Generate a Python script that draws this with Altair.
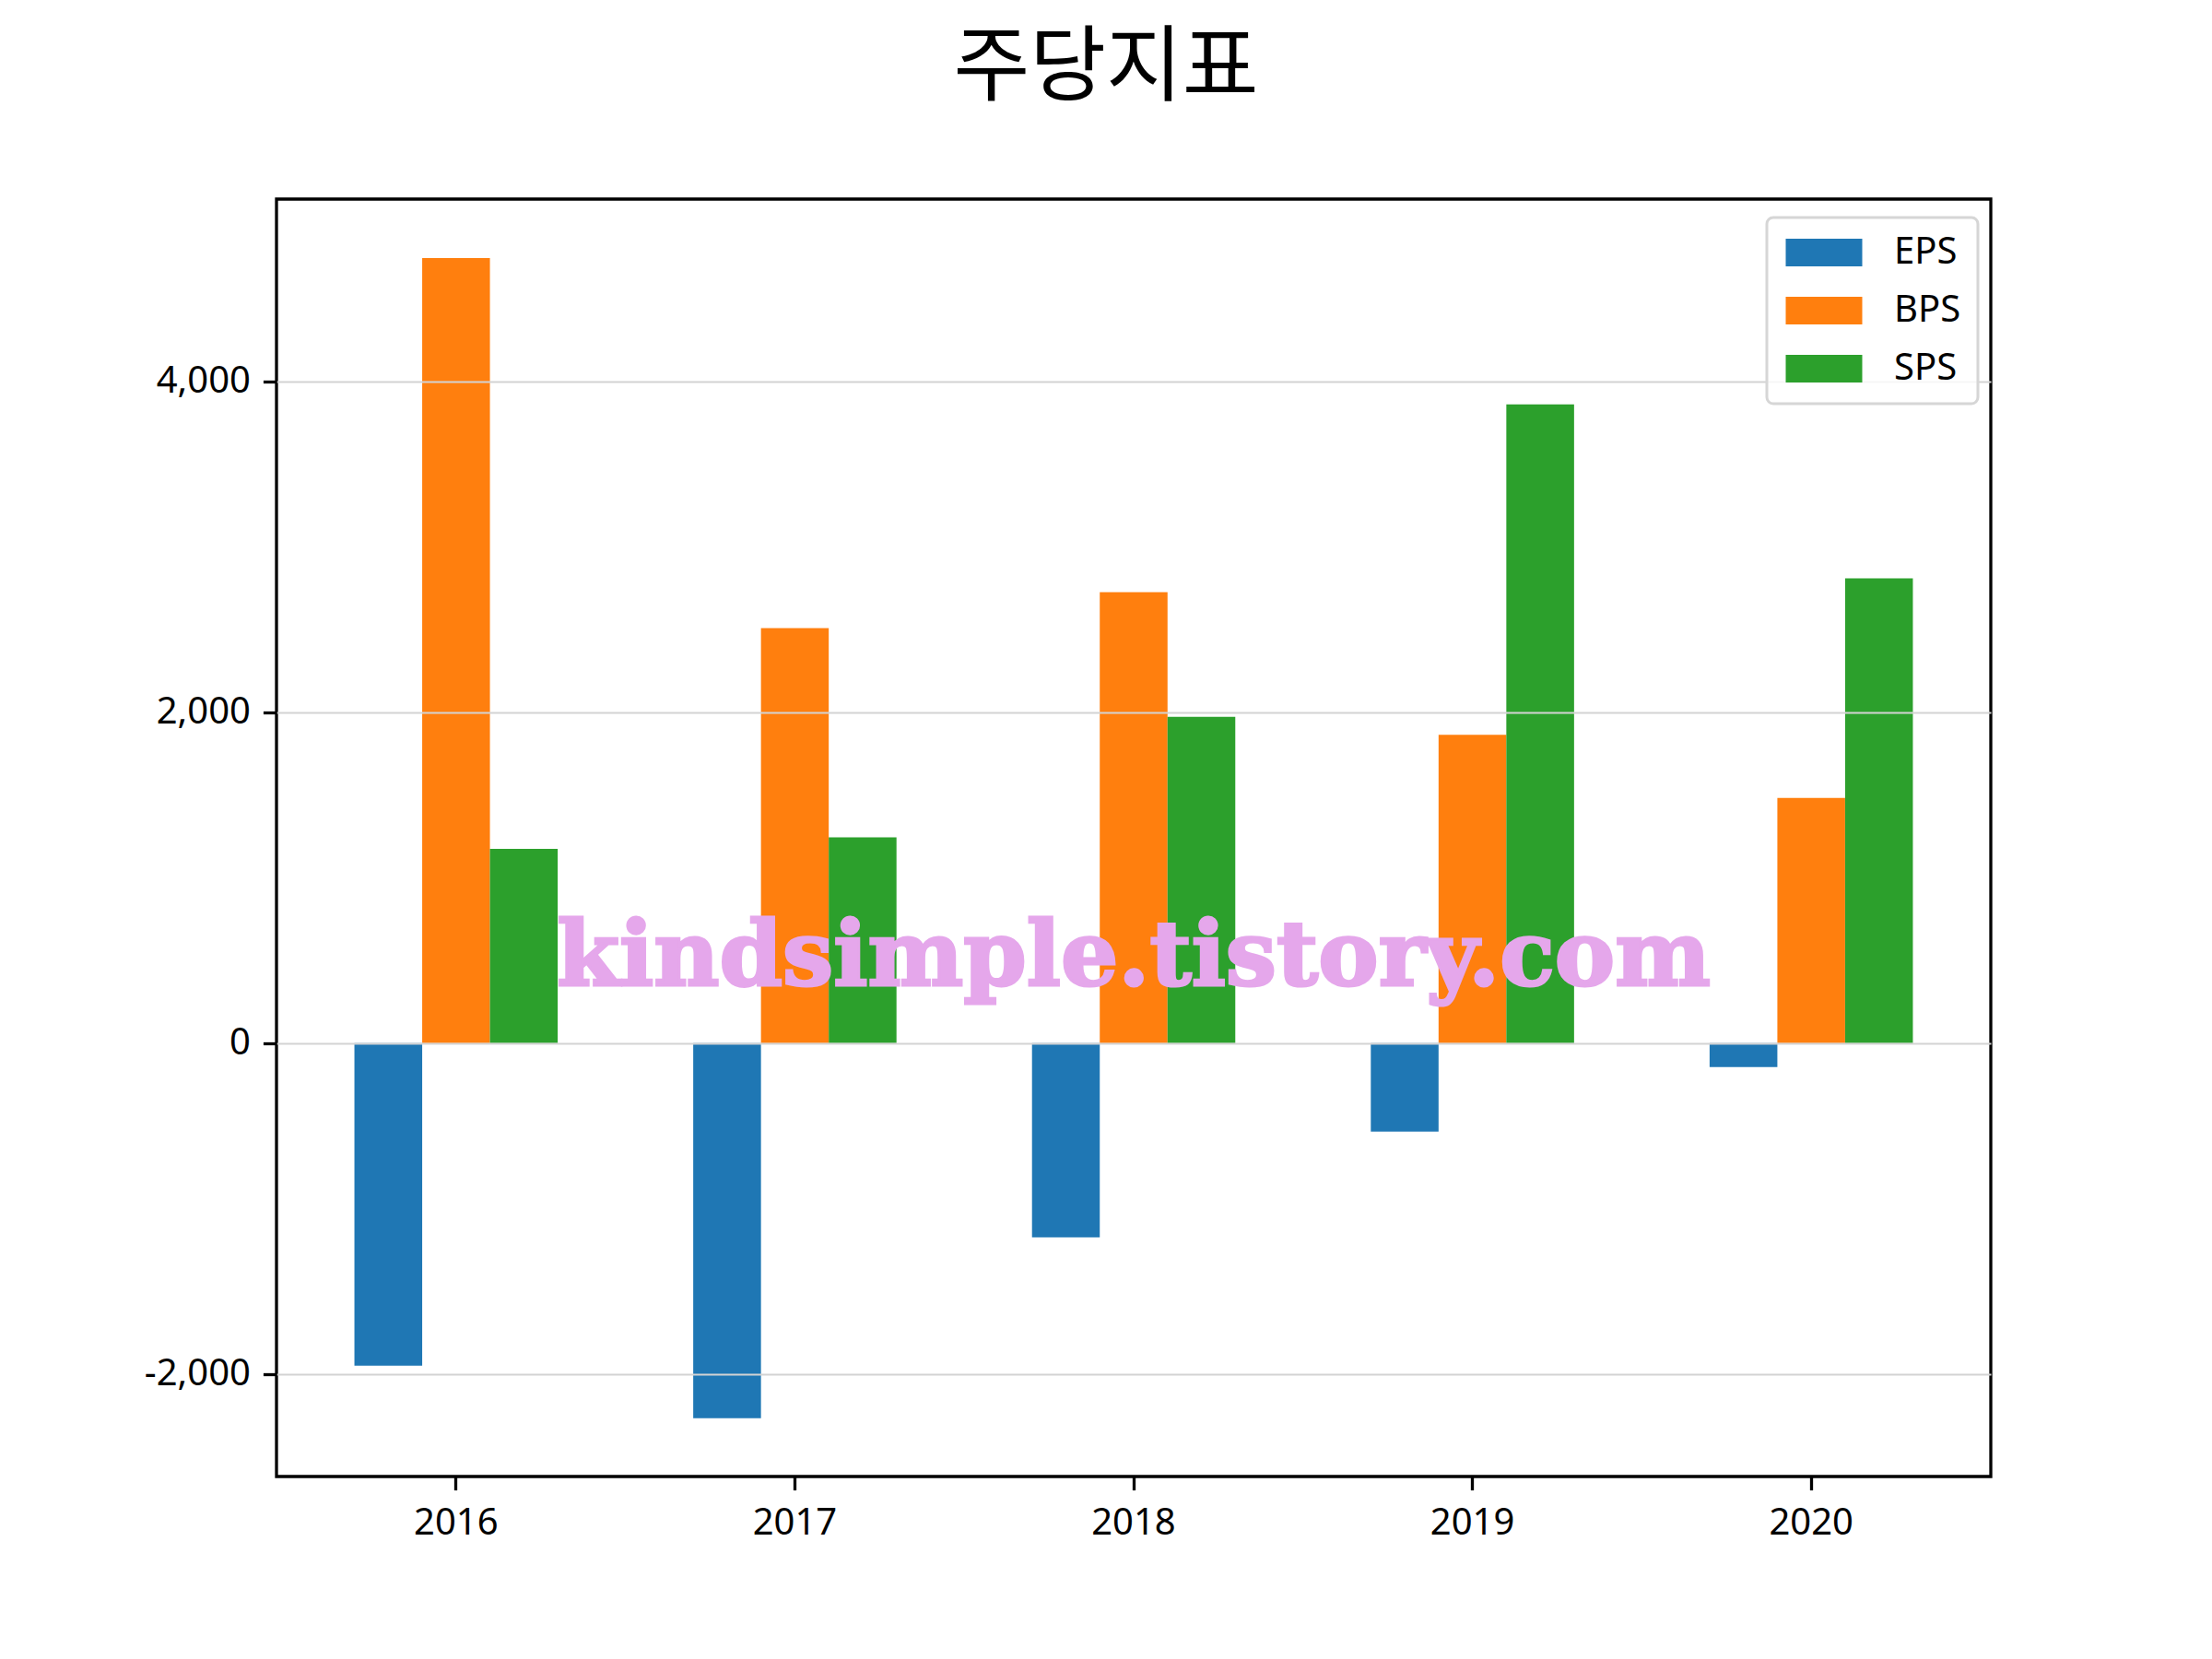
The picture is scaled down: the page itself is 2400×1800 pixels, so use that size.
import altair as alt
import pandas as pd

years = ["2016", "2017", "2018", "2019", "2020"]
series = ["EPS", "BPS", "SPS"]
eps = [-1950, -2267, -1175, -535, -145]
bps = [4745, 2508, 2725, 1863, 1482]
sps = [1173, 1243, 1971, 3860, 2808]
colors = ["#1f77b4", "#ff7f0e", "#2ca02c"]
watermark = "kindsimple.tistory.com"
y_ticks = [-2000, 0, 2000, 4000]

rows = []
for name, vals in zip(series, [eps, bps, sps]):
    for y, v in zip(years, vals):
        rows.append({"year": y, "series": name, "value": v})
df = pd.DataFrame(rows)

FS = 40
LABEL_FONT = "Noto Sans"

x_scale = alt.Scale(domain=years, paddingInner=0.4, paddingOuter=0.23)
y_scale = alt.Scale(domain=[-2620, 5101], nice=False, zero=False)

x_axis = alt.Axis(title=None, labelAngle=0, domain=False, grid=False,
                  tickColor="black", tickWidth=3.3, tickSize=14.6,
                  labelFontSize=FS, labelFont=LABEL_FONT, labelColor="black",
                  labelPadding=16, zindex=1)
y_axis = alt.Axis(title=None, values=y_ticks,
                  labelExpr="replace(format(datum.value, ','), '\u2212', '-')",
                  domain=False, grid=True, gridColor="#d3d3d3", gridWidth=2,
                  tickColor="black", tickWidth=3.3, tickSize=14.6,
                  labelFontSize=FS, labelFont=LABEL_FONT, labelColor="black",
                  labelPadding=14, zindex=1)

bars = alt.Chart(df).mark_bar().encode(
    x=alt.X("year:N", sort=years, scale=x_scale, axis=x_axis),
    xOffset=alt.XOffset("series:N", sort=series,
                        scale=alt.Scale(domain=series, paddingInner=0, paddingOuter=0)),
    y=alt.Y("value:Q", scale=y_scale, axis=y_axis),
    color=alt.Color("series:N", sort=series,
                    scale=alt.Scale(domain=series, range=colors),
                    legend=alt.Legend(title=None, orient="none", legendX=1617, legendY=20,
                                      symbolType="M-1,-0.857H3.743V0.857H-1Z",
                                      symbolSize=1225, symbolStrokeWidth=0,
                                      labelFontSize=FS, labelFont=LABEL_FONT,
                                      labelColor="black", labelOffset=80,
                                      rowPadding=23, padding=18,
                                      strokeColor="#d6d6d6",
                                      cornerRadius=7, fillColor="rgba(255,255,255,0.8)",
                                      zindex=2)),
)

wm_df = pd.DataFrame({"year": [years[2]], "value": [350], "text": [watermark]})
wm = alt.Chart(wm_df).mark_text(
    font="DejaVu Serif", fontWeight="bold", fontSize=98, color="#e5a7eb",
    stroke="#e5a7eb", strokeWidth=3,
    baseline="alphabetic", align="center"
).encode(
    x=alt.X("year:N", sort=years, scale=x_scale, axis=x_axis),
    y=alt.Y("value:Q", scale=y_scale, axis=y_axis),
    text="text:N",
)

chart = alt.layer(bars, wm).properties(
    width=1860, height=1386,
    background="white",
    title=alt.TitleParams("주당지표", font="Noto Sans CJK KR", fontSize=90,
                          fontWeight="normal", color="black", anchor="middle",
                          dx=-30, offset=24, baseline="alphabetic"),
    autosize=alt.AutoSizeParams(type="none"),
    padding={"left": 292, "top": 208, "right": 60, "bottom": 180},
).configure_view(stroke="black", strokeWidth=3.3).configure_legend(strokeWidth=3)

chart.save("out.html", embed_options={"renderer": "svg", "actions": False})
